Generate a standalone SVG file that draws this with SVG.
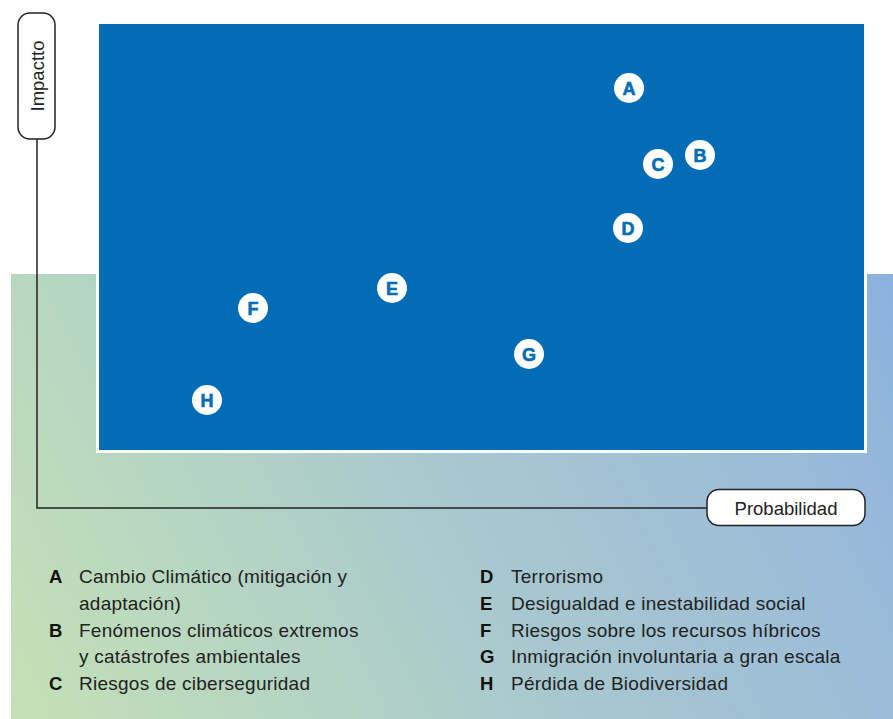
<svg xmlns="http://www.w3.org/2000/svg" width="893" height="719" viewBox="0 0 893 719">
<style>
.bub{fill:#ffffff}
.bl{font-family:"Liberation Sans",Arial,sans-serif;font-weight:bold;font-size:18px;fill:#036cb6;stroke:#036cb6;stroke-width:0.6;text-anchor:middle}
.ax{font-family:"Liberation Sans",Arial,sans-serif;font-size:18.5px;fill:#222222;text-anchor:middle}
.box{fill:#ffffff;stroke:#222222;stroke-width:1.5}
.lk{font-family:"Liberation Sans",Arial,sans-serif;font-weight:bold;font-size:18.5px;fill:#111111}
.lt{font-family:"Liberation Sans",Arial,sans-serif;font-size:19px;letter-spacing:0.25px;fill:#222222}
</style>
<defs>
<linearGradient id="bg" gradientUnits="userSpaceOnUse" x1="11" y1="719" x2="893" y2="274">
<stop offset="0" stop-color="#c4e1b5"/>
<stop offset="0.25" stop-color="#b6d5c2"/>
<stop offset="0.5" stop-color="#a8c8cf"/>
<stop offset="0.8" stop-color="#9cbcd8"/>
<stop offset="1" stop-color="#8bb2de"/>
</linearGradient>
</defs>
<rect x="0" y="0" width="893" height="719" fill="#ffffff"/>
<rect x="11" y="274" width="882" height="445" fill="url(#bg)"/>
<rect x="97.5" y="22.5" width="768" height="429" fill="#036cb6" stroke="#ffffff" stroke-width="3"/>
<g id="connectors">
<polyline points="37,139 37,508 707,508" fill="none" stroke="#222222" stroke-width="1.5"/>
</g>
<g id="axis-impacto">
<rect class="box" x="18" y="13" width="37" height="126" rx="12"/>
<text class="ax" transform="translate(43.5,76) rotate(-90)">Impactto</text>
</g>
<g id="axis-probabilidad">
<rect class="box" x="707" y="489.5" width="158" height="36" rx="12"/>
<text class="ax" x="786" y="514.5">Probabilidad</text>
</g>
<g id="node-A"><circle class="bub" cx="629" cy="88" r="15"/><text class="bl" x="629" y="94.5">A</text></g>
<g id="node-B"><circle class="bub" cx="700" cy="155" r="15"/><text class="bl" x="700" y="161.5">B</text></g>
<g id="node-C"><circle class="bub" cx="658" cy="164" r="15"/><text class="bl" x="658" y="170.5">C</text></g>
<g id="node-D"><circle class="bub" cx="628" cy="228" r="15"/><text class="bl" x="628" y="234.5">D</text></g>
<g id="node-E"><circle class="bub" cx="392" cy="288" r="15"/><text class="bl" x="392" y="294.5">E</text></g>
<g id="node-F"><circle class="bub" cx="253" cy="308" r="15"/><text class="bl" x="253" y="314.5">F</text></g>
<g id="node-G"><circle class="bub" cx="529" cy="354" r="15"/><text class="bl" x="529" y="360.5">G</text></g>
<g id="node-H"><circle class="bub" cx="207" cy="400" r="15"/><text class="bl" x="207" y="406.5">H</text></g>
<g id="legend">
<text class="lk" x="49" y="583">A</text>
<text class="lt" x="79" y="583">Cambio Climático (mitigación y</text>
<text class="lt" x="79" y="610">adaptación)</text>
<text class="lk" x="49" y="637">B</text>
<text class="lt" x="79" y="637">Fenómenos climáticos extremos</text>
<text class="lt" x="79" y="663">y catástrofes ambientales</text>
<text class="lk" x="49" y="690">C</text>
<text class="lt" x="79" y="690">Riesgos de ciberseguridad</text>
<text class="lk" x="480" y="583">D</text>
<text class="lt" x="511" y="583">Terrorismo</text>
<text class="lk" x="480" y="610">E</text>
<text class="lt" x="511" y="610">Desigualdad e inestabilidad social</text>
<text class="lk" x="480" y="637">F</text>
<text class="lt" x="511" y="637">Riesgos sobre los recursos híbricos</text>
<text class="lk" x="480" y="663">G</text>
<text class="lt" x="511" y="663">Inmigración involuntaria a gran escala</text>
<text class="lk" x="480" y="690">H</text>
<text class="lt" x="511" y="690">Pérdida de Biodiversidad</text>
</g>
</svg>
